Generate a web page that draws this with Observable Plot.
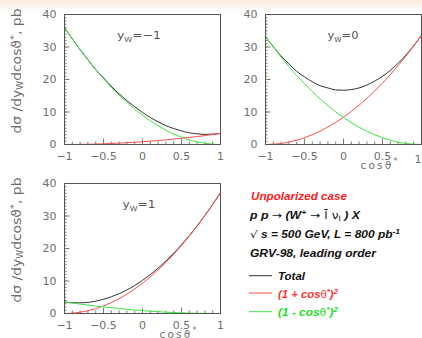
<!DOCTYPE html>
<html><head><meta charset="utf-8">
<script src="https://cdn.jsdelivr.net/npm/d3@7"></script>
<script src="https://cdn.jsdelivr.net/npm/@observablehq/plot@0.6"></script>
<style>
html,body{margin:0;padding:0;}
body{width:422px;height:338px;position:relative;overflow:hidden;background:linear-gradient(to bottom,#fbeadb 0px,#ffffff 11px);}
.p{position:absolute;}
</style></head><body>
<script>
// cos(theta*) sample points
const cosTheta = [-1,-0.9,-0.8,-0.7,-0.6,-0.5,-0.4,-0.3,-0.2,-0.1,0,0.1,0.2,0.3,0.4,0.5,0.6,0.7,0.8,0.9,1];
// y_W = -1
const totalYwM1 = [36,32.5,29.2,26.1,23.1,20.5,17.9,15.6,13.5,11.6,9.85,8.3,7.0,5.8,4.9,4.2,3.6,3.3,3.1,3.2,3.4];
const plusYwM1  = [0,0.01,0.03,0.08,0.14,0.21,0.31,0.42,0.54,0.69,0.85,1.03,1.22,1.44,1.67,1.91,2.18,2.46,2.75,3.07,3.4];
const minusYwM1 = [36,32.5,29.2,26.0,23.0,20.3,17.6,15.2,13.0,10.9,9.0,7.3,5.8,4.4,3.2,2.3,1.4,0.8,0.4,0.1,0];
// y_W = 0
const totalYw0 = [33.2,30.1,27.2,24.8,22.5,20.8,19.3,18.1,17.4,16.8,16.7,16.9,17.4,18.3,19.5,21.0,22.8,25.0,27.5,30.4,33.6];
const plusYw0  = [0,0.1,0.3,0.8,1.3,2.1,3.0,4.1,5.4,6.8,8.4,10.2,12.1,14.2,16.5,18.9,21.5,24.3,27.2,30.3,33.6];
const minusYw0 = [33.2,30.0,26.9,24.0,21.2,18.7,16.3,14.0,12.0,10.0,8.3,6.7,5.3,4.1,3.0,2.1,1.3,0.7,0.3,0.1,0];
// y_W = 1
const totalYw1 = [3.6,3.3,3.27,3.44,3.79,4.38,5.15,6.11,7.25,8.63,10.2,11.97,13.95,16.14,18.53,21.13,23.94,26.95,30.16,33.58,37.2];
const plusYw1  = [0,0.09,0.37,0.84,1.49,2.33,3.35,4.56,5.95,7.53,9.3,11.25,13.39,15.72,18.23,20.93,23.81,26.88,30.13,33.57,37.2];
const minusYw1 = [3.6,3.2,2.9,2.6,2.3,2.05,1.8,1.55,1.3,1.1,0.9,0.72,0.56,0.42,0.3,0.2,0.13,0.07,0.03,0.01,0];

const yMajor = [0,10,20,30,40];
const yMinor = [0,1,2,3,4,5,6,7,8,9,10,11,12,13,14,15,16,17,18,19,20,21,22,23,24,25,26,27,28,29,30,31,32,33,34,35,36,37,38,39,40];
const xMajor = [-1,-0.5,0,0.5,1];
const xTickLabels = ["−1","−0.5","0","0.5","1"];
const xMinor = [-1,-0.9,-0.8,-0.7,-0.6,-0.5,-0.4,-0.3,-0.2,-0.1,0,0.1,0.2,0.3,0.4,0.5,0.6,0.7,0.8,0.9,1];

const ywLabels = ["−1","0","1"];
const colTotal = "#333333", colPlus = "#ff4d4d", colMinus = "#3de63d";

function panel({left, top, width, marginLeft, total, plus, minus, yw, ywX, ywLen, yLabel, cosLabel, lastEnd}) {
  const pw = 156, ph = 130;
  const rows = cosTheta.map((c, i) => ({c, total: total[i], plus: plus[i], minus: minus[i]}));
  const svg = Plot.plot({
    width, height: 169,
    marginLeft, marginRight: width - marginLeft - pw, marginTop: 14, marginBottom: 25,
    style: {background: "transparent", overflow: "visible", fontFamily: "DejaVu Sans", fontSize: "11px", color: "#6e6e6e"},
    x: {domain: [-1, 1]},
    y: {domain: [0, 40]},
    marks: [
      Plot.tickY(yMinor, {y: d => d, insetRight: pw - 2.5, stroke: "#7a7a7a"}),
      Plot.tickY(yMajor, {y: d => d, insetRight: pw - 5.5, stroke: "#7a7a7a"}),
      Plot.tickX(xMinor, {x: d => d, insetTop: ph - 2.5, stroke: "#7a7a7a"}),
      Plot.tickX(xMajor, {x: d => d, insetTop: ph - 5.5, stroke: "#7a7a7a"}),
      Plot.axisY({ticks: yMajor, tickSize: 0, tickPadding: 8, label: null}),
      Plot.axisX({ticks: xMajor, tickSize: 0, tickPadding: 8, label: null, tickFormat: d => xTickLabels[xMajor.indexOf(d)]}),
      Plot.line(rows, {x: "c", y: "total", stroke: colTotal, strokeWidth: 1, curve: "monotone-x"}),
      Plot.line(rows, {x: "c", y: "plus", stroke: colPlus, strokeWidth: 1, curve: "monotone-x"}),
      Plot.line(rows, {x: "c", y: "minus", stroke: colMinus, strokeWidth: 1, curve: "monotone-x"}),
      Plot.frame({stroke: "#555"})
    ]
  });
  svg.classList.add("p");
  svg.style.left = left + "px";
  svg.style.top = top + "px";
  const g = d3.select(svg);
  if (lastEnd) {
    const labels = g.selectAll('g[aria-label="x-axis tick label"] text').nodes();
    d3.select(labels[labels.length - 1]).attr("text-anchor", "end").attr("dy", "0.2em");
  }
  // y_W label
  const t = g.append("text").attr("x", ywX).attr("y", 39).attr("fill", "#555")
    .attr("font-family", "DejaVu Sans").attr("font-size", 11)
    .attr("textLength", ywLen).attr("lengthAdjust", "spacingAndGlyphs");
  t.append("tspan").text("y");
  t.append("tspan").attr("font-size", 7).attr("dy", 2.5).text("W");
  t.append("tspan").attr("dy", -2.5).text("=" + yw);
  if (yLabel) {
    const yl = g.append("text").attr("transform", `translate(${20.5 - left},71) rotate(-90)`)
      .attr("text-anchor", "middle").attr("fill", "#6e6e6e")
      .attr("font-family", "DejaVu Sans").attr("font-size", 12.5)
      .attr("textLength", 125).attr("lengthAdjust", "spacingAndGlyphs");
    yl.append("tspan").text("dσ /dy");
    yl.append("tspan").attr("font-size", 8).attr("dy", 2.5).text("W");
    yl.append("tspan").attr("dy", -2.5).text("dcosϑ");
    yl.append("tspan").attr("font-size", 9).attr("dy", -4).text("*");
    yl.append("tspan").attr("dy", 4).text(", pb");
  }
  if (cosLabel !== undefined) {
    const cl = g.append("text").attr("x", cosLabel).attr("y", 168.5).attr("fill", "#6e6e6e")
      .attr("font-family", "DejaVu Sans").attr("font-size", 10.5)
      .attr("textLength", 37).attr("lengthAdjust", "spacing");
    cl.append("tspan").text("cosϑ");
    cl.append("tspan").attr("font-size", 8).attr("dy", -5).text("*");
  }
  document.body.appendChild(svg);
}

panel({left: 0, top: 0, width: 221, marginLeft: 64, total: totalYwM1, plus: plusYwM1, minus: minusYwM1,
  yw: ywLabels[0], ywX: 139, ywLen: 44, yLabel: true});
panel({left: 221, top: 0, width: 201, marginLeft: 44, total: totalYw0, plus: plusYw0, minus: minusYw0,
  yw: ywLabels[1], ywX: 343 - 221, ywLen: 31, yLabel: false, cosLabel: 379 - 221, lastEnd: true});
panel({left: 0, top: 169, width: 221, marginLeft: 64, total: totalYw1, plus: plusYw1, minus: minusYw1,
  yw: ywLabels[2], ywX: 139, ywLen: 33, yLabel: true, cosLabel: 178});

// Legend / annotation block
const leg = d3.create("svg").attr("width", 211).attr("height", 169)
  .attr("class", "p").style("left", "211px").style("top", "169px").style("overflow", "visible");
const bi = s => s.attr("font-family", "Liberation Sans, Arial, sans-serif").attr("font-weight", "bold")
  .attr("font-style", "italic").attr("font-size", 10);
const plain = s => s.attr("font-family", "DejaVu Sans").attr("font-weight", "normal").attr("font-style", "normal");

bi(leg.append("text").attr("x", 40).attr("y", 30.5).attr("fill", "#ff1a1a")
  .attr("textLength", 96).attr("lengthAdjust", "spacingAndGlyphs")).text("Unpolarized case");

const l2 = bi(leg.append("text").attr("x", 39).attr("y", 50).attr("fill", "#111")
  .attr("textLength", 110).attr("lengthAdjust", "spacingAndGlyphs"));
l2.append("tspan").text("p p ");
plain(l2.append("tspan")).text("→");
l2.append("tspan").text(" (W");
l2.append("tspan").attr("font-size", 7).attr("dy", -4).text("+");
plain(l2.append("tspan").attr("dy", 4)).text(" → ");
plain(l2.append("tspan")).style("text-decoration", "overline").text("l");
plain(l2.append("tspan")).text(" ν");
plain(l2.append("tspan").attr("font-size", 7).attr("dy", 2)).text("l");
l2.append("tspan").attr("dy", -2).text(" ) X");

const l3 = bi(leg.append("text").attr("x", 39).attr("y", 68.5).attr("fill", "#111")
  .attr("textLength", 150).attr("lengthAdjust", "spacingAndGlyphs"));
plain(l3.append("tspan")).text("√");
l3.append("tspan").text(" s = 500 GeV, L = 800 pb");
l3.append("tspan").attr("font-size", 7).attr("dy", -4).text("-1");

bi(leg.append("text").attr("x", 39).attr("y", 87.5).attr("fill", "#111")
  .attr("textLength", 126).attr("lengthAdjust", "spacingAndGlyphs")).text("GRV-98, leading order");

const items = [
  {color: colTotal, y: 106.7, textColor: "#111", parts: [["Total"]], len: 27},
  {color: colPlus, y: 124, textColor: "#ff3030", parts: [["(1 + cos"], ["θ", "n"], ["*", "sup"], [")"], ["2", "sup"]], len: 60},
  {color: colMinus, y: 142.7, textColor: "#22dd22", parts: [["(1 - cos"], ["θ", "n"], ["*", "sup"], [")"], ["2", "sup"]], len: 60}
];
for (const it of items) {
  leg.append("line").attr("x1", 38).attr("x2", 61).attr("y1", it.y).attr("y2", it.y)
    .attr("stroke", it.color).attr("stroke-width", 1);
  const tx = bi(leg.append("text").attr("x", 67).attr("y", it.y + 4.6).attr("fill", it.textColor)
    .attr("textLength", it.len).attr("lengthAdjust", "spacingAndGlyphs"));
  let sup = false;
  for (const [s, kind] of it.parts) {
    const ts = tx.append("tspan").text(s);
    if (kind === "n") ts.attr("font-weight", "normal").attr("font-style", "normal");
    if (kind === "sup" && !sup) { ts.attr("font-size", 7).attr("dy", -4); sup = true; }
    else if (kind === "sup") { ts.attr("font-size", 7); }
    else if (sup) { ts.attr("dy", 4); sup = false; }
  }
}
document.body.appendChild(leg.node());
</script>
</body></html>
